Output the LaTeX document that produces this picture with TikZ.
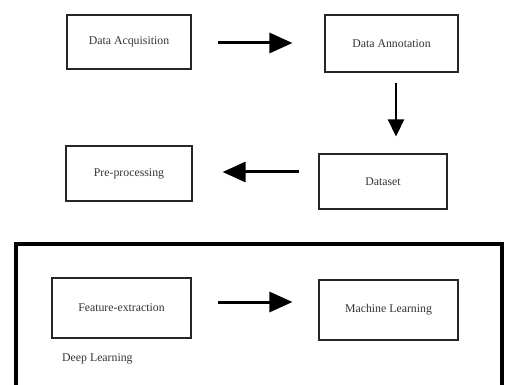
\documentclass[tikz,border=0pt]{standalone}
\usepackage{fontspec}
\setmainfont{Liberation Serif}
\usetikzlibrary{arrows.meta}
\begin{document}
\begin{tikzpicture}[x=1pt,y=-1pt,
  stage/.style={draw=black!85, line width=1.1pt, rectangle, inner sep=0pt,
    font=\fontsize{11.8}{14}\selectfont, text=black!80},
  arr/.style={line width=3pt, -{Triangle[length=23pt,width=20pt]}},
  smallarr/.style={line width=2.6pt, -{Triangle[length=17pt,width=16pt]}},
  frame/.style={draw=black, line width=4.5pt}]
\clip (0,0) rectangle (509,385);
\fill[white] (0,0) rectangle (509,385);

% upper pipeline
\node[stage, minimum width=124pt, minimum height=54pt] (acq) at (129,42) {Data Acquisition};
\node[stage, minimum width=133pt, minimum height=57pt] (ann) at (391.5,43.5) {Data Annotation};
\node[stage, minimum width=128pt, minimum height=55pt] (ds) at (383,181.5) {Dataset};
\node[stage, minimum width=126pt, minimum height=55pt] (pre) at (129,173.5) {Pre-processing};

\draw[arr, shorten <=26pt, shorten >=32pt] ([yshift=-1pt]acq.east) -- ([yshift=-1pt]acq.east -| ann.west);
\draw[smallarr, shorten <=10pt, shorten >=17pt] ([xshift=4.5pt]ann.south) -- ([xshift=4.5pt]ann.south |- ds.north);
\draw[arr, shorten <=19pt, shorten >=30pt] ([yshift=1.5pt]pre.east -| ds.west) -- ([yshift=1.5pt]pre.east);

% learning block
\draw[frame] (16,244) rectangle (502,420);
\node[stage, minimum width=139pt, minimum height=60pt] (fe) at (121.5,308) {Feature-extraction};
\node[stage, minimum width=139pt, minimum height=60pt] (ml) at (388.5,310) {Machine Learning};
\draw[arr, shorten <=26pt, shorten >=26pt] ([yshift=6pt]fe.east) -- ([yshift=6pt]fe.east -| ml.west);
\node[anchor=west, inner sep=0pt, font=\fontsize{11.8}{14}\selectfont, text=black!80] (dl) at (62,359) {Deep Learning};
\end{tikzpicture}
\end{document}
